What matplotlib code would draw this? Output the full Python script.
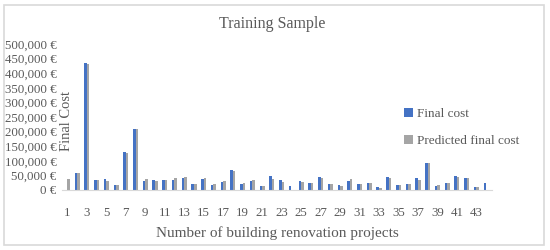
import matplotlib
matplotlib.use("Agg")
import matplotlib.pyplot as plt
import numpy as np
from matplotlib.patches import Rectangle
from matplotlib.ticker import FuncFormatter

# values, in euro
projects = list(range(1, 45))
final_cost = [0, 57000, 434000, 34000, 38000, 17000, 129000, 208000, 32000, 35000,
              34000, 33000, 42000, 19000, 39000, 17000, 29000, 67000, 22000, 31000,
              14000, 48000, 33000, 15000, 30000, 25000, 44000, 19000, 16000, 32000,
              19000, 24000, 11000, 43000, 17000, 19000, 42000, 94000, 15000, 25000,
              48000, 41000, 9000, 24000]
predicted_cost = [38000, 57000, 430000, 34000, 31000, 17000, 128000, 208000, 36000, 32000,
                  34000, 40000, 43000, 19000, 41000, 19000, 32000, 64000, 24000, 34000,
                  15000, 36000, 29000, 0, 27000, 25000, 40000, 19000, 14000, 36000,
                  22000, 24000, 8000, 42000, 17000, 20000, 34000, 91000, 17000, 23000,
                  45000, 41000, 9000, 0]
xtick_labels = projects[::2]

plt.rcParams['font.family'] = ['Liberation Serif', 'DejaVu Serif']
txt = "#595959"

fig = plt.figure(figsize=(5.5, 2.5), dpi=100)
fig.patches.append(Rectangle((4/550, 5/250), 540/550, 240/250, transform=fig.transFigure,
                             fill=False, edgecolor="#d9d9d9", lw=1.2))

ax = fig.add_axes([62/550, 60/250, 430/550, 146/250])
x = np.array(projects)
w = 0.26
ax.bar(x - w/2, final_cost, w, color="#4472c4", label="Final cost")
ax.bar(x + w/2, predicted_cost, w, color="#a5a5a5", label="Predicted final cost")

ax.set_xlim(0.45, 44.6)
ax.set_ylim(0, 500000)
ax.set_yticks(np.arange(0, 500001, 50000))
ax.yaxis.set_major_formatter(FuncFormatter(lambda v, p: f"{int(v):,} €"))
ax.set_xticks(xtick_labels)
ax.set_xticklabels([str(v) for v in xtick_labels])
ax.tick_params(axis="both", length=0, labelsize=9.3, colors=txt)
ax.tick_params(axis="x", pad=12)
ax.tick_params(axis="y", pad=4)
for s in ["top", "right", "left"]:
    ax.spines[s].set_visible(False)
ax.spines["bottom"].set_color("#d9d9d9")

fig.text(272/550, 1 - 24/250, "Training Sample", ha="center", va="center", fontsize=11.5, color=txt)
fig.text(66/550, 1 - 121/250, "Final Cost", rotation=90, ha="center", va="center", fontsize=10.5, color=txt)
fig.text(277/550, 1 - 233/250, "Number of building renovation projects", ha="center", va="center",
         fontsize=11, color=txt)

leg = fig.legend(loc="upper left", bbox_to_anchor=(392/550, 1 - 96/250), frameon=False,
                 fontsize=9.5, handlelength=0.7, handleheight=0.7, handletextpad=0.3,
                 labelspacing=1.1)
for t in leg.get_texts():
    t.set_color(txt)

fig.savefig("out.png", dpi=100)
